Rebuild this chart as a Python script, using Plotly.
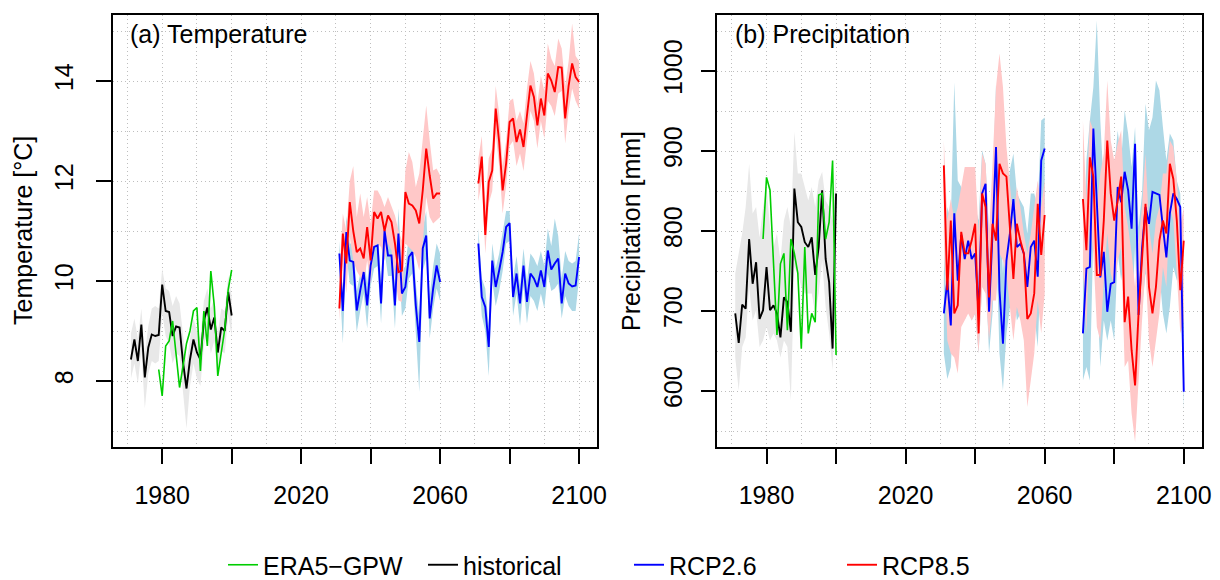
import plotly.graph_objects as go

# ---------------- data ----------------
years_hist = list(range(1971, 2001))
years_era = list(range(1979, 2001))
years_mid = list(range(2031, 2061))
years_end = list(range(2071, 2101))

# Temperature [°C]
t_era5 = [8.23, 7.70, 8.70, 8.80, 9.20, 8.55, 7.87, 8.30, 8.75, 9.00, 9.40, 9.47,
          8.20, 9.40, 8.70, 10.20, 9.50, 8.10, 8.57, 9.03, 9.83, 10.22]
t_hist = [8.43, 8.83, 8.40, 9.13, 8.07, 8.67, 8.93, 8.90, 8.92, 9.93, 9.40, 9.38, 8.90, 9.09, 9.07,
          8.37, 7.85, 8.43, 8.83, 8.57, 8.43, 9.20, 9.47, 9.03, 9.27, 8.57, 9.07, 9.00, 9.78, 9.31]
t_hist_lo = [8.05, 8.35, 7.95, 8.60, 7.45, 8.15, 8.40, 8.35, 8.40, 9.35, 8.90, 8.75, 8.35, 8.55, 8.50,
             7.80, 7.05, 7.90, 8.35, 8.05, 7.90, 8.70, 9.00, 8.55, 8.80, 8.10, 8.60, 8.55, 9.30, 8.90]
t_hist_hi = [8.95, 9.25, 8.85, 9.45, 8.55, 9.10, 9.45, 9.50, 9.45, 10.25, 9.85, 9.80, 9.50, 9.70, 9.55,
             8.85, 8.30, 8.85, 9.25, 9.00, 8.85, 9.60, 9.85, 9.45, 9.65, 8.95, 9.45, 9.40, 10.10, 9.70]

t26_mid = [10.55, 9.40, 10.98, 10.41, 10.38, 9.41, 9.81, 10.18, 9.51, 10.31, 10.68, 10.71, 9.55, 11.01, 10.51,
           10.51, 9.51, 10.95, 9.75, 9.88, 10.48, 10.58, 9.51, 8.78, 10.65, 10.91, 9.25, 9.85, 10.31, 9.98]
t26_mid_lo = [10.10, 8.75, 10.55, 9.95, 9.90, 8.98, 9.40, 9.75, 9.05, 9.90, 10.25, 10.30, 9.15, 10.60, 10.10,
              10.10, 9.05, 10.50, 9.30, 9.45, 10.05, 10.15, 9.00, 7.78, 10.20, 10.45, 8.85, 9.45, 9.85, 9.60]
t26_mid_hi = [10.80, 9.75, 11.30, 10.75, 10.75, 9.80, 10.15, 10.55, 9.95, 10.70, 11.05, 11.10, 10.00, 11.40, 10.90,
              10.95, 9.90, 11.45, 10.20, 10.30, 10.90, 11.00, 9.95, 9.30, 11.05, 11.40, 9.70, 10.30, 10.75, 10.55]

t85_mid = [9.45, 10.95, 10.35, 11.58, 11.00, 10.58, 10.65, 10.45, 11.08, 10.41, 11.38, 11.25, 11.38, 11.00, 11.31,
           11.18, 10.75, 10.18, 10.21, 11.78, 11.55, 11.51, 11.41, 11.15, 11.81, 12.65, 12.11, 11.65, 11.75, 11.75]
t85_mid_lo = [9.20, 10.35, 9.75, 10.88, 10.41, 10.20, 10.08, 9.95, 10.41, 9.95, 10.68, 10.75, 10.68, 10.41, 10.75,
              10.61, 10.08, 9.61, 9.58, 10.75, 10.68, 10.61, 10.48, 10.21, 10.75, 11.68, 11.28, 11.15, 11.21, 11.28]
t85_mid_hi = [10.10, 11.35, 11.00, 12.00, 12.30, 11.28, 11.75, 11.28, 11.68, 11.15, 11.81, 11.81, 11.68, 11.48, 11.68,
              11.48, 11.31, 11.01, 10.81, 12.21, 12.58, 12.38, 11.88, 12.15, 12.81, 13.51, 12.81, 12.21, 12.25, 12.11]

t26_end = [10.75, 9.68, 9.48, 8.68, 10.41, 9.88, 10.21, 10.58, 11.08, 11.16, 9.68, 10.15, 9.55, 10.31, 9.58,
           10.15, 10.05, 9.88, 10.21, 9.88, 10.61, 10.23, 10.35, 10.45, 9.55, 10.15, 9.95, 9.89, 9.91, 10.48]
t26_end_lo = [10.30, 9.30, 9.00, 8.10, 10.00, 9.50, 9.80, 10.20, 10.75, 10.80, 9.30, 9.75, 9.10, 9.90, 9.15,
              9.70, 9.60, 9.40, 9.75, 9.45, 10.15, 9.80, 9.85, 9.95, 9.25, 9.70, 9.50, 9.40, 9.40, 10.05]
t26_end_hi = [11.05, 10.05, 9.85, 9.10, 10.75, 10.25, 10.55, 10.95, 11.40, 11.40, 10.05, 10.50, 9.90, 10.65, 10.00,
              10.55, 10.45, 10.30, 10.60, 10.30, 11.05, 10.70, 11.25, 10.90, 10.05, 10.60, 10.40, 10.35, 10.40, 10.95]

t85_end = [11.95, 12.49, 10.92, 11.98, 12.21, 13.45, 12.78, 11.81, 12.35, 13.18, 13.25, 12.78, 13.03, 12.68, 13.31,
           13.91, 13.68, 13.11, 13.65, 13.31, 14.15, 14.01, 13.78, 14.28, 14.27, 13.25, 13.91, 14.35, 14.08, 13.98]
t85_end_lo = [11.60, 12.00, 10.55, 11.55, 11.80, 12.95, 12.30, 11.35, 11.90, 12.70, 12.80, 12.30, 12.55, 12.20, 12.80,
              13.40, 13.20, 12.65, 13.20, 12.85, 13.60, 13.50, 13.30, 13.75, 13.80, 12.75, 13.40, 13.85, 13.60, 13.45]
t85_end_hi = [12.45, 12.90, 11.50, 12.45, 12.65, 13.90, 13.35, 12.30, 12.80, 13.60, 13.65, 13.20, 13.40, 13.15, 13.85,
              14.40, 14.15, 13.55, 14.10, 13.80, 14.75, 14.45, 14.30, 14.85, 14.65, 13.90, 14.40, 15.15, 14.50, 14.40]

# Precipitation [mm]
p_era5 = [790, 867, 851, 755, 670, 759, 772, 676, 790, 772, 747, 653,
          780, 672, 697, 686, 845, 847, 790, 811, 888, 645]
p_hist = [697, 660, 708, 703, 790, 734, 761, 690, 701, 755, 701, 707, 697, 667, 717,
          711, 674, 853, 811, 805, 786, 780, 792, 745, 780, 851, 765, 736, 653, 847]
p_hist_lo = [642, 601, 655, 667, 730, 688, 701, 655, 663, 680, 663, 672, 663, 642, 663,
             655, 588, 755, 747, 730, 722, 722, 722, 697, 722, 763, 705, 672, 626, 747]
p_hist_hi = [747, 772, 797, 830, 884, 822, 830, 792, 830, 855, 805, 780, 797, 763, 813,
             830, 805, 924, 872, 872, 855, 838, 855, 830, 863, 874, 838, 830, 813, 876]

p26_mid = [697, 738, 682, 822, 738, 795, 765, 788, 765, 772, 697, 847, 859, 699, 797,
           905, 726, 659, 763, 797, 840, 780, 784, 772, 730, 780, 788, 743, 888, 903]
p26_mid_lo = [647, 615, 630, 722, 676, 705, 688, 705, 688, 697, 647, 730, 747, 647, 697,
              797, 647, 601, 672, 705, 730, 688, 697, 680, 647, 688, 697, 655, 763, 772]
p26_mid_hi = [747, 830, 813, 986, 863, 855, 830, 830, 822, 830, 813, 901, 884, 797, 847,
              984, 830, 747, 830, 876, 897, 847, 838, 830, 797, 847, 847, 830, 938, 942]

p85_mid = [882, 726, 813, 697, 707, 799, 772, 772, 788, 809, 672, 847, 830, 717, 809,
           788, 884, 872, 868, 805, 740, 809, 788, 772, 690, 697, 722, 834, 770, 820]
p85_mid_lo = [790, 663, 647, 642, 622, 680, 688, 697, 688, 697, 647, 730, 722, 663, 713,
              713, 772, 763, 747, 705, 663, 705, 688, 663, 580, 613, 647, 713, 672, 722]
p85_mid_hi = [913, 813, 840, 813, 830, 855, 880, 880, 880, 880, 797, 897, 884, 797, 884,
              980, 1022, 980, 905, 855, 813, 855, 830, 797, 772, 797, 830, 863, 830, 863]

p26_end = [672, 753, 755, 928, 836, 742, 774, 699, 734, 736, 855, 836, 874, 851, 803,
           909, 695, 778, 830, 809, 849, 847, 845, 805, 767, 822, 847, 840, 830, 599]
p26_end_lo = [613, 630, 613, 797, 730, 630, 688, 663, 688, 663, 772, 738, 772, 747, 688,
              780, 647, 705, 747, 730, 772, 772, 747, 697, 672, 705, 755, 738, 747, 576]
p26_end_hi = [747, 888, 938, 980, 1063, 938, 855, 897, 830, 876, 926, 888, 951, 922, 880,
              930, 805, 847, 959, 926, 942, 988, 976, 930, 888, 922, 913, 863, 847, 688]

p85_end = [840, 776, 892, 868, 745, 745, 813, 913, 847, 813, 838, 868, 686, 718, 651,
           607, 697, 759, 834, 730, 697, 730, 788, 813, 797, 884, 865, 813, 726, 788]
p85_end_lo = [755, 672, 813, 772, 680, 663, 738, 797, 747, 730, 763, 780, 630, 638, 572,
              536, 613, 688, 755, 663, 630, 663, 697, 755, 730, 830, 813, 747, 672, 688]
p85_end_hi = [938, 838, 938, 926, 830, 872, 897, 988, 913, 888, 909, 926, 830, 805, 772,
              730, 788, 830, 897, 805, 772, 813, 830, 872, 872, 913, 905, 863, 805, 830]

# ---------------- styles ----------------
FONT = "Liberation Sans, Arial, Helvetica, sans-serif"
FS = 25
C_ERA = "rgb(0,205,0)"
C_HIST = "black"
C_26 = "rgb(0,0,255)"
C_85 = "rgb(255,0,0)"
F_HIST = "rgb(232,232,232)"
F_26 = "rgb(173,216,230)"
F_85 = "rgb(255,200,200)"
LW = 1.9

fig = go.Figure()


def band(x, lo, hi, color, xa, ya):
    fig.add_trace(go.Scatter(
        x=list(x) + list(x)[::-1], y=list(hi) + list(lo)[::-1],
        fill="toself", fillcolor=color, line=dict(width=0, color=color),
        mode="lines", hoverinfo="skip", showlegend=False, xaxis=xa, yaxis=ya))


def line(x, y, color, name, xa, ya, legend=None, width=LW):
    fig.add_trace(go.Scatter(
        x=x, y=y, mode="lines", line=dict(color=color, width=width), name=name,
        showlegend=legend is not None, legend=legend or "legend", xaxis=xa, yaxis=ya))


panels = [
    ("x", "y", (t_hist_lo, t_hist_hi, t_hist, t_era5,
                t26_mid, t26_mid_lo, t26_mid_hi, t85_mid, t85_mid_lo, t85_mid_hi,
                t26_end, t26_end_lo, t26_end_hi, t85_end, t85_end_lo, t85_end_hi), True),
    ("x2", "y2", (p_hist_lo, p_hist_hi, p_hist, p_era5,
                  p26_mid, p26_mid_lo, p26_mid_hi, p85_mid, p85_mid_lo, p85_mid_hi,
                  p26_end, p26_end_lo, p26_end_hi, p85_end, p85_end_lo, p85_end_hi), False),
]

for xa, ya, d, leg in panels:
    (h_lo, h_hi, h, era, m26, m26lo, m26hi, m85, m85lo, m85hi,
     e26, e26lo, e26hi, e85, e85lo, e85hi) = d
    band(years_hist, h_lo, h_hi, F_HIST, xa, ya)
    band(years_mid, m26lo, m26hi, F_26, xa, ya)
    band(years_end, e26lo, e26hi, F_26, xa, ya)
    band(years_mid, m85lo, m85hi, F_85, xa, ya)
    band(years_end, e85lo, e85hi, F_85, xa, ya)
    line(years_hist, h, C_HIST, "historical", xa, ya, "legend2" if leg else None)
    line(years_era, era, C_ERA, "ERA5\u2212GPW", xa, ya, "legend" if leg else None, width=1.6)
    line(years_mid, m26, C_26, "RCP2.6", xa, ya, "legend3" if leg else None)
    line(years_end, e26, C_26, "RCP2.6", xa, ya)
    line(years_mid, m85, C_85, "RCP8.5", xa, ya, "legend4" if leg else None)
    line(years_end, e85, C_85, "RCP8.5", xa, ya)

W, H = 1220, 580
y_dom = [133 / H, 565 / H]
GRID_C = "rgb(190,190,190)"
grid = dict(showgrid=True, gridcolor=GRID_C, gridwidth=1, griddash="1px,3px")
axis_common = dict(showline=True, mirror=True, linecolor="black", linewidth=1.5,
                   ticks="outside", ticklen=15, tickwidth=1.5, tickcolor="black",
                   zeroline=False, automargin=False,
                   tickfont=dict(family=FONT, size=FS, color="black"),
                   **grid)

x_ticks = [1980, 2000, 2020, 2040, 2060, 2080, 2100]
x_text = ["1980", "", "2020", "", "2060", "", "2100"]
xaxis = dict(range=[1965.84, 2105.16], tickvals=x_ticks, ticktext=x_text, ticklabelstandoff=10,
             minor=dict(tick0=1970, dtick=10, ticks="", showgrid=True, gridcolor=GRID_C,
                        gridwidth=1, griddash="1px,3px"),
             **axis_common)

fig.update_layout(
    width=W, height=H, margin=dict(l=0, r=0, t=0, b=0, autoexpand=False),
    paper_bgcolor="white", plot_bgcolor="white",
    font=dict(family=FONT, size=FS, color="black"),
    xaxis=dict(domain=[113 / W, 597 / W], anchor="y", **xaxis),
    xaxis2=dict(domain=[717.3 / W, 1201.7 / W], anchor="y2", **xaxis),
    yaxis=dict(domain=y_dom, anchor="x", range=[6.68, 15.32], tickvals=[8, 10, 12, 14], tickangle=-90,
               ticklabelstandoff=13,
               minor=dict(tick0=7, dtick=1, ticks="", showgrid=True, gridcolor=GRID_C,
                          gridwidth=1, griddash="1px,3px"),
               **axis_common),
    yaxis2=dict(domain=y_dom, anchor="x2", range=[530, 1070], tickvals=[600, 700, 800, 900, 1000],
                tickangle=-90, ticklabelstandoff=9,
                minor=dict(tick0=550, dtick=50, ticks="", showgrid=True, gridcolor=GRID_C,
                           gridwidth=1, griddash="1px,3px"),
                **axis_common),
    annotations=[
        dict(text="(a) Temperature", xref="x domain", yref="y domain", x=0.031, y=0.956,
             xanchor="left", yanchor="middle", showarrow=False, font=dict(size=FS)),
        dict(text="(b) Precipitation", xref="x2 domain", yref="y2 domain", x=0.032, y=0.956,
             xanchor="left", yanchor="middle", showarrow=False, font=dict(size=FS)),
        dict(text="Temperature [°C]", xref="paper", yref="paper", x=23 / W, y=(H - 231) / H,
             xanchor="center", yanchor="middle", textangle=-90, showarrow=False, font=dict(size=FS)),
        dict(text="Precipitation [mm]", xref="paper", yref="paper", x=631 / W, y=(H - 231) / H,
             xanchor="center", yanchor="middle", textangle=-90, showarrow=False, font=dict(size=FS)),
    ],
)

leg_style = dict(orientation="h", yanchor="middle", xanchor="left", y=(H - 565) / H,
                 bgcolor="rgba(0,0,0,0)", borderwidth=0, font=dict(family=FONT, size=FS, color="black"))
fig.update_layout(
    legend=dict(x=223 / W, **leg_style),
    legend2=dict(x=423 / W, **leg_style),
    legend3=dict(x=629 / W, **leg_style),
    legend4=dict(x=842 / W, **leg_style),
)

fig.write_html("out.html")
